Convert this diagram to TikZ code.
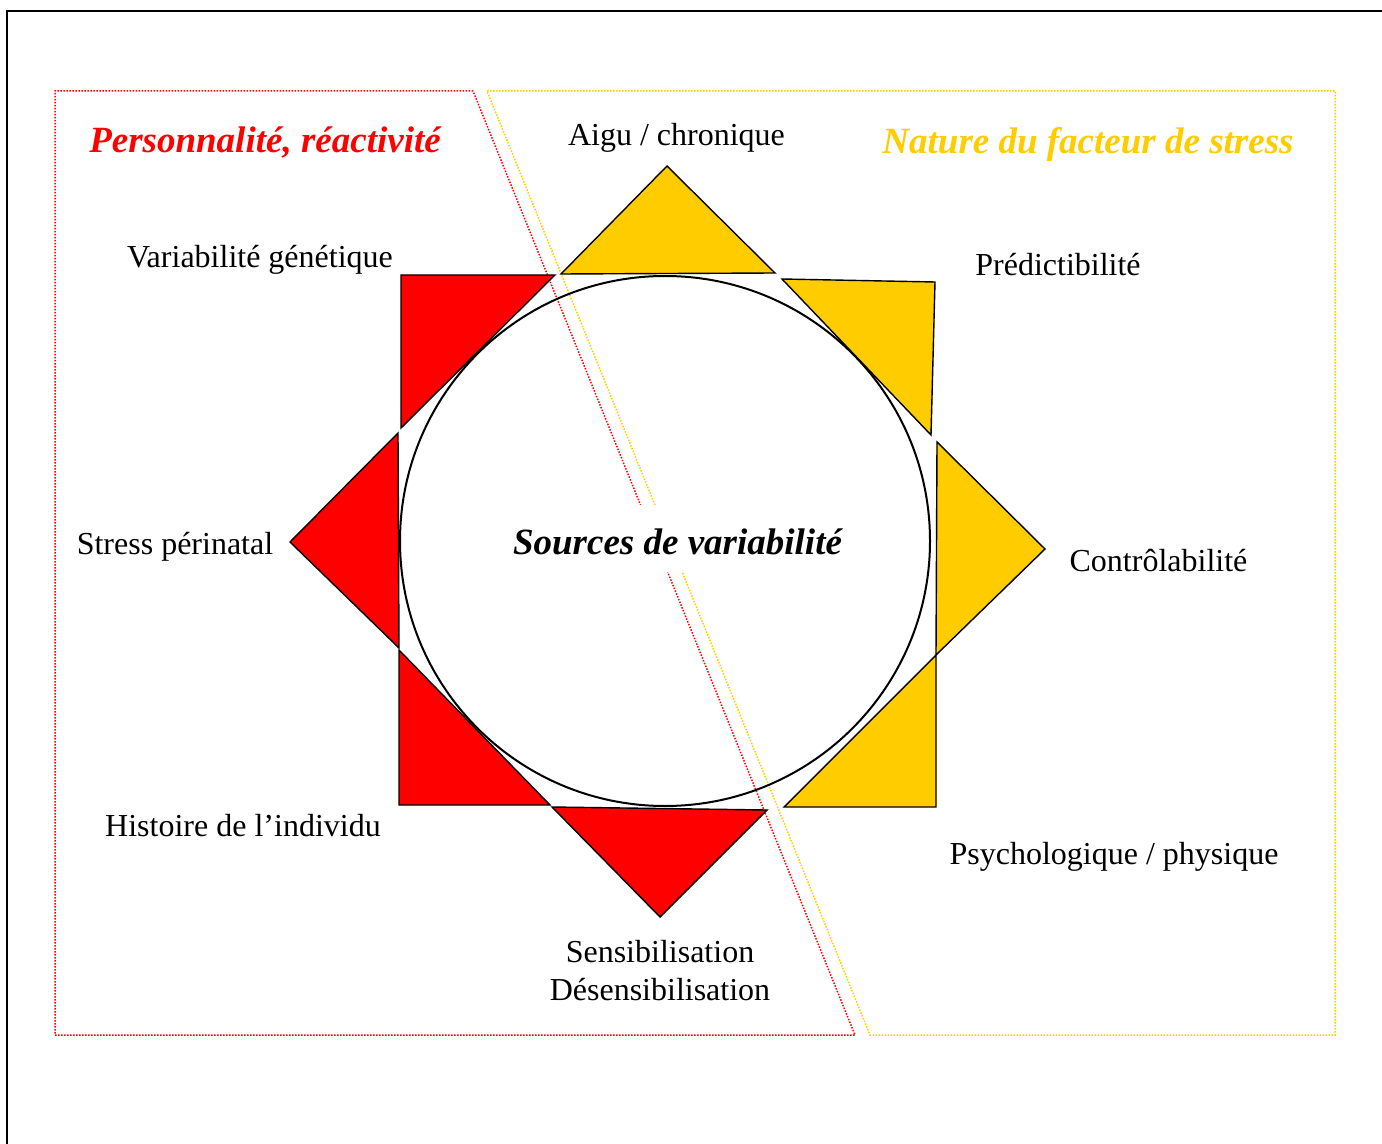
\documentclass[tikz,border=0pt]{standalone}
\usepackage{fontspec}
\setmainfont{Liberation Serif}
\definecolor{redfill}{HTML}{FF0000}
\definecolor{goldfill}{HTML}{FFCC00}
\begin{document}
\begin{tikzpicture}[x=0.5pt,y=-0.5pt,
  lab/.style={font=\fontsize{16pt}{19pt}\selectfont, anchor=base, inner sep=0pt},
  ttl/.style={font=\fontsize{18.5pt}{22pt}\selectfont\bfseries\itshape, anchor=base, inner sep=0pt},
  redtri/.style={fill=redfill, draw=black, line width=0.7pt},
  goldtri/.style={fill=goldfill, draw=black, line width=0.7pt},
  zone/.style={dash pattern=on 0.75pt off 0.75pt, line width=0.75pt}]
\useasboundingbox (0,0) rectangle (1382,1144);
\fill[white] (0,0) rectangle (1382,1144);
% page frame
\draw[line width=1pt] (7,1144) -- (7,11) -- (1382,11);
% zones
\draw[zone, draw=redfill] (473,91) -- (55,91) -- (55,1035) -- (855,1035) -- cycle;
\draw[zone, draw=goldfill] (487,91) -- (1335,91) -- (1335,1035) -- (870,1035) -- cycle;
% circle
\draw[line width=1pt] (665,541) circle[radius=265];
% gold triangles
\draw[goldtri] (561,274) -- (667,166) -- (775,273) -- cycle;
\draw[goldtri] (782,279) -- (935,282) -- (931,435) -- cycle;
\draw[goldtri] (937,442) -- (1045,549) -- (936,655) -- cycle;
\draw[goldtri] (936,655) -- (936,807) -- (784,807) -- cycle;
% red triangles
\draw[redtri] (552,807) -- (767,810) -- (660,917) -- cycle;
\draw[redtri] (399,650) -- (399,805) -- (550,805) -- cycle;
\draw[redtri] (398,433) -- (290,542) -- (399,648) -- cycle;
\draw[redtri] (401,275) -- (555,275) -- (401,428) -- cycle;
% titles
\node[ttl, text=redfill] (tperso) at (265,153) {Personnalité, réactivité};
\node[ttl, text=goldfill] (tnature) at (1088,154) {Nature du facteur de stress};
\node[ttl, fill=white, text height=24.5pt, text depth=9pt] (tsources) at (677.5,554) {Sources de variabilité};
% labels
\node[lab] (laigu) at (676.5,146) {Aigu / chronique};
\node[lab] (lgene) at (260,268) {Variabilité génétique};
\node[lab] (lpred) at (1058,276) {Prédictibilité};
\node[lab] (lperi) at (175,554) {Stress périnatal};
\node[lab] (lcontr) at (1158.5,572) {Contrôlabilité};
\node[lab] (lhist) at (243,836) {Histoire de l’individu};
\node[lab] (lpsy) at (1114,864) {Psychologique / physique};
\node[lab] (lsens) at (660,962) {Sensibilisation};
\node[lab] (ldesens) at (660,1000) {Désensibilisation};
\end{tikzpicture}
\end{document}
